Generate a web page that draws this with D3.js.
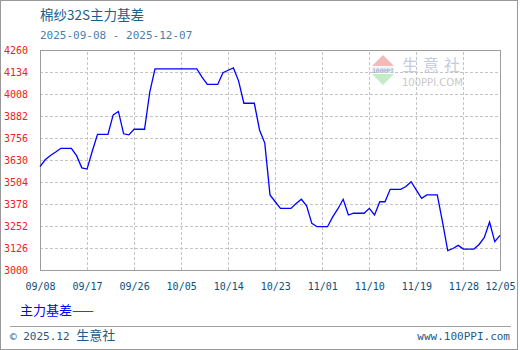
<!DOCTYPE html>
<html>
<head>
<meta charset="utf-8">
<script src="https://cdn.jsdelivr.net/npm/d3@7"></script>
<style>
  body { margin: 0; background: #fff; }
  text { font-family: "DejaVu Sans Mono", "Liberation Mono", monospace; }
  .cjk { font-family: "Noto Sans CJK SC", sans-serif; }
</style>
</head>
<body>
<div id="chart"></div>
<script>
// data: one value per calendar day, 09/08 .. 12/05
var dates = [
  "09-08","09-09","09-10","09-11","09-12","09-13","09-14","09-15","09-16","09-17",
  "09-18","09-19","09-20","09-21","09-22","09-23","09-24","09-25","09-26","09-27",
  "09-28","09-29","09-30","10-01","10-02","10-03","10-04","10-05","10-06","10-07",
  "10-08","10-09","10-10","10-11","10-12","10-13","10-14","10-15","10-16","10-17",
  "10-18","10-19","10-20","10-21","10-22","10-23","10-24","10-25","10-26","10-27",
  "10-28","10-29","10-30","10-31","11-01","11-02","11-03","11-04","11-05","11-06",
  "11-07","11-08","11-09","11-10","11-11","11-12","11-13","11-14","11-15","11-16",
  "11-17","11-18","11-19","11-20","11-21","11-22","11-23","11-24","11-25","11-26",
  "11-27","11-28","11-29","11-30","12-01","12-02","12-03","12-04","12-05"
];
var basis = [
  3592, 3631, 3656, 3676, 3697, 3697, 3697, 3655, 3585, 3578,
  3680, 3777, 3777, 3777, 3888, 3908, 3780, 3774, 3806, 3806,
  3806, 4019, 4152, 4152, 4152, 4152, 4152, 4152, 4152, 4152,
  4152, 4105, 4063, 4063, 4063, 4130, 4144, 4157, 4082, 3955,
  3955, 3955, 3802, 3727, 3430, 3391, 3353, 3353, 3353, 3381,
  3405, 3367, 3267, 3248, 3248, 3248, 3304, 3351, 3405, 3315,
  3325, 3325, 3325, 3353, 3315, 3391, 3391, 3462, 3462, 3462,
  3478, 3506, 3458, 3411, 3430, 3430, 3430, 3275, 3111, 3123,
  3141, 3120, 3120, 3120, 3146, 3187, 3275, 3162, 3198
];
var xTickLabels = ["09/08","09/17","09/26","10/05","10/14","10/23","11/01","11/10","11/19","11/28","12/05"];
var yTicks = [3000, 3126, 3252, 3378, 3504, 3630, 3756, 3882, 4008, 4134, 4260];

// define variables for spacing, margins, etc.
var W = 520, H = 350;
var margin = { left: 40, right: 20, top: 50, bottom: 80 };
var w = W - margin.left - margin.right;
var h = H - margin.top - margin.bottom;

var parseDay = d3.timeParse("%Y-%m-%d");
var data = dates.map((d, i) => ({ date: parseDay("2025-" + d), value: basis[i] }));
var tickDates = xTickLabels.map((d) => parseDay("2025-" + d.replace("/", "-")));

var svg = d3.select("#chart").append("svg")
  .attr("width", W)
  .attr("height", H);

// outer frame
svg.append("rect")
  .attr("x", 0.5).attr("y", 0.5)
  .attr("width", W - 3).attr("height", H - 1)
  .style("fill", "none").style("stroke", "#999");

// scales
var x = d3.scaleTime().domain([tickDates[0], tickDates[tickDates.length - 1]]).range([0, w]);
var y = d3.scaleLinear().domain([3000, 4260]).range([h, 0]);

var g = svg.append("g")
  .attr("transform", "translate(" + margin.left + "," + margin.top + ")");

// watermark logo (behind grid)
var logo = g.append("g").attr("transform", "translate(332,5)");
logo.append("path").attr("d", "M11,0 L22,11 L0,11 Z").style("fill", "#f4b9b9");
logo.append("rect").attr("x", 0).attr("y", 12).attr("width", 22).attr("height", 6).style("fill", "#eef0f4");
logo.append("text").attr("x", 11).attr("y", 17.5).attr("text-anchor", "middle")
  .style("font-size", "6px").style("fill", "#8a94b8").text("100PPI");
logo.append("path").attr("d", "M0,19 L22,19 L11,30 Z").style("fill", "#c2ebc6");
logo.append("text").attr("class", "cjk").attr("x", 30).attr("y", 16)
  .style("font-size", "16px").style("letter-spacing", "5px").style("fill", "#c5cbe0").text("生意社");
logo.append("text").attr("x", 30).attr("y", 31)
  .style("font-size", "10px").style("fill", "#c8c8c8").style("font-family", "DejaVu Sans, sans-serif").text("100PPI.COM");

// grid lines
g.append("g")
  .attr("class", "grid")
  .call(d3.axisLeft(y).tickValues(yTicks).tickSize(-w).tickFormat(""))
  .call((s) => s.select(".domain").remove());
g.append("g")
  .attr("class", "grid")
  .attr("transform", "translate(0," + h + ")")
  .call(d3.axisBottom(x).tickValues(tickDates).tickSize(-h).tickFormat(""))
  .call((s) => s.select(".domain").remove());
g.selectAll(".grid line")
  .style("stroke", "#c4c4c4")
  .style("stroke-dasharray", "3,2")
  .attr("shape-rendering", "crispEdges");

// plot frame
g.append("rect")
  .attr("x", 0).attr("y", 0)
  .attr("width", w).attr("height", h)
  .style("fill", "none").style("stroke", "#9c9c9c")
  .attr("shape-rendering", "crispEdges");

// y axis labels (red)
g.append("g")
  .call(d3.axisLeft(y).tickValues(yTicks).tickSize(0).tickPadding(12).tickFormat(d3.format("d")))
  .call((s) => s.select(".domain").remove())
  .selectAll("text")
  .style("font-family", "DejaVu Sans Mono, monospace")
  .style("font-size", "10px")
  .style("fill", "#f02020");

// x axis labels
g.append("g")
  .attr("transform", "translate(0," + h + ")")
  .call(d3.axisBottom(x).tickValues(tickDates).tickSize(0).tickPadding(13)
    .tickFormat((d, i) => xTickLabels[i]))
  .call((s) => s.select(".domain").remove())
  .selectAll("text")
  .style("font-family", "DejaVu Sans Mono, monospace")
  .style("font-size", "10px")
  .style("fill", "#0b4f7c");

// the line
var line = d3.line().x((d) => x(d.date)).y((d) => y(d.value));
g.append("path")
  .datum(data)
  .attr("d", line)
  .style("fill", "none")
  .style("stroke", "#0000ff")
  .style("stroke-width", 1.3);

// title + date range
svg.append("text").attr("class", "cjk")
  .attr("x", 40).attr("y", 20)
  .style("font-size", "13.5px").style("fill", "#1b5e8c")
  .text("棉纱32S主力基差");
svg.append("text")
  .attr("x", 40).attr("y", 39)
  .style("font-size", "11px").style("fill", "#4a7fab")
  .text("2025-09-08 - 2025-12-07");

// legend
svg.append("text").attr("class", "cjk")
  .attr("x", 20).attr("y", 315)
  .style("font-size", "13px").style("fill", "#0000ff")
  .text("主力基差——");

// footer
svg.append("line")
  .attr("x1", 10).attr("x2", 511).attr("y1", 326.5).attr("y2", 326.5)
  .style("stroke", "#a0a0a0");
svg.append("text")
  .attr("x", 10).attr("y", 340)
  .style("font-size", "11px").style("fill", "#1f5b86")
  .text("© 2025.12 ")
  .append("tspan").attr("class", "cjk").style("font-size", "13px").text("生意社");
svg.append("text")
  .attr("x", 510).attr("y", 340)
  .attr("text-anchor", "end")
  .style("font-size", "11px").style("fill", "#1f5b86")
  .text("www.100PPI.com");
</script>
</body>
</html>
